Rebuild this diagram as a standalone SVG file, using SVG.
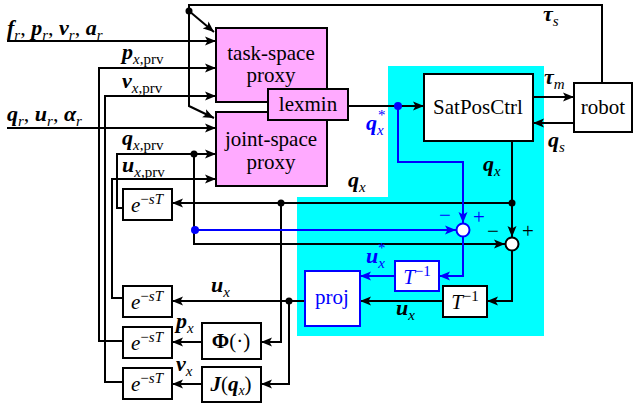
<svg xmlns="http://www.w3.org/2000/svg" width="636" height="412" viewBox="0 0 636 412">
<style>
.ln{fill:none;stroke:#000;stroke-width:2}
.bl{fill:none;stroke:#0000ff;stroke-width:2}
.box{fill:#fff;stroke:#000;stroke-width:2}
.pk{fill:#ffaaff;stroke:#000;stroke-width:2}
.bbox{fill:#fff;stroke:#0000ff;stroke-width:2}
.t{font-size:21px;fill:#000;text-anchor:middle}
.tb{fill:#0000ff}
.bi{font-weight:bold;font-style:italic;font-size:22px;fill:#000}
.sb{font-weight:normal;font-style:italic;font-size:15px}
.rm{font-weight:normal;font-style:normal;font-size:15px}
.n{font-weight:normal;font-style:normal}
.it{font-style:italic}
.sup{font-size:15px}
.sg{font-size:21px}
</style>
<defs>
<marker id="ab" markerWidth="12" markerHeight="10" refX="11" refY="5" orient="auto" markerUnits="userSpaceOnUse"><path d="M0,0.5 L11,5 L0,9.5 L2.5,5 z" fill="#000"/></marker>
<marker id="au" markerWidth="12" markerHeight="10" refX="11" refY="5" orient="auto" markerUnits="userSpaceOnUse"><path d="M0,0.5 L11,5 L0,9.5 L2.5,5 z" fill="#0000ff"/></marker>
</defs>
<rect width="636" height="412" fill="#fff"/>
<polygon points="388,66 544,66 544,336 297,336 297,197 388,197" fill="#00ffff"/>

<g id="connectors">
<path class="ln" d="M602,83 V5 H189 V106 L214,118" marker-end="url(#ab)"/>
<path class="ln" d="M189,11 L214,32" marker-end="url(#ab)"/>
<path class="ln" d="M7,41 H216" marker-end="url(#ab)"/>
<path class="ln" d="M123,341 H99 V68 H216" marker-end="url(#ab)"/>
<path class="ln" d="M123,382 H105 V96 H216" marker-end="url(#ab)"/>
<path class="ln" d="M7,128 H216" marker-end="url(#ab)"/>
<path class="ln" d="M123,208 H117 V154 H216" marker-end="url(#ab)"/>
<path class="ln" d="M123,298 H112 V179 H216" marker-end="url(#ab)"/>
<path class="ln" d="M194,154 V244 H505" marker-end="url(#ab)"/>
<path class="ln" d="M348,106 H424" marker-end="url(#ab)"/>
<path class="ln" d="M533,97 H574" marker-end="url(#ab)"/>
<path class="ln" d="M574,123 H533" marker-end="url(#ab)"/>
<path class="ln" d="M512,141 V237" marker-end="url(#ab)"/>
<path class="ln" d="M512,203 H172" marker-end="url(#ab)"/>
<path class="ln" d="M281,203 V342 H261" marker-end="url(#ab)"/>
<path class="ln" d="M512,251 V301 H487" marker-end="url(#ab)"/>
<path class="ln" d="M443,301 H360" marker-end="url(#ab)"/>
<path class="ln" d="M305,301 H172" marker-end="url(#ab)"/>
<path class="ln" d="M289,301 V384 H261" marker-end="url(#ab)"/>
<path class="ln" d="M202,342 H172" marker-end="url(#ab)"/>
<path class="ln" d="M202,384 H172" marker-end="url(#ab)"/>
<path class="bl" d="M398,106 V162 H463 V223" marker-end="url(#au)"/>
<path class="bl" d="M195,230 H456" marker-end="url(#au)"/>
<path class="bl" d="M463,237 V276 H439" marker-end="url(#au)"/>
<path class="bl" d="M395,276 H360" marker-end="url(#au)"/>
<circle cx="189" cy="11" r="3.5" fill="#000"/>
<circle cx="194" cy="154" r="3.5" fill="#000"/>
<circle cx="512" cy="203" r="3.5" fill="#000"/>
<circle cx="281" cy="203" r="3.5" fill="#000"/>
<circle cx="289" cy="301" r="3.5" fill="#000"/>
<circle cx="398" cy="106" r="4" fill="#0000ff"/>
<circle cx="195" cy="230" r="4" fill="#0000ff"/>
</g>

<g font-family="Liberation Serif, serif">
<g id="task-proxy"><rect class="pk" x="216" y="28" width="111" height="74"/><text class="t" x="271" y="60">task-space</text><text class="t" x="271" y="82">proxy</text></g>
<g id="joint-proxy"><rect class="pk" x="216" y="112" width="111" height="74"/><text class="t" x="271" y="146">joint-space</text><text class="t" x="271" y="169">proxy</text></g>
<g id="lexmin"><rect class="pk" x="268" y="89" width="80" height="31"/><text class="t" x="308" y="111">lexmin</text></g>
<g id="satposctrl"><rect class="box" x="424" y="74" width="109" height="67"/><text class="t" x="478" y="114">SatPosCtrl</text></g>
<g id="robot"><rect class="box" x="574" y="83" width="58" height="49"/><text class="t" x="603" y="114">robot</text></g>
<g id="sum-blue"><circle cx="463" cy="230" r="6.5" fill="#fff" stroke="#0000ff" stroke-width="2"/></g>
<g id="sum-black"><circle cx="512" cy="244" r="6.5" fill="#fff" stroke="#000" stroke-width="2"/></g>
<g id="tinv-blue"><rect class="bbox" x="395" y="261" width="44" height="30"/><text class="t tb" x="417" y="284"><tspan class="it">T</tspan><tspan class="sup" dy="-8">−1</tspan></text></g>
<g id="tinv-black"><rect class="box" x="443" y="286" width="44" height="31"/><text class="t" x="465" y="309"><tspan class="it">T</tspan><tspan class="sup" dy="-8">−1</tspan></text></g>
<g id="proj"><rect class="bbox" x="305" y="271" width="55" height="55"/><text class="t tb" x="332" y="304">proj</text></g>
<g id="delay-q"><rect class="box" x="123" y="189" width="49" height="31"/><text class="t" x="147" y="212"><tspan class="it">e</tspan><tspan class="sup" dy="-8">−<tspan class="it">sT</tspan></tspan></text></g>
<g id="delay-u"><rect class="box" x="123" y="286" width="49" height="31"/><text class="t" x="147" y="309"><tspan class="it">e</tspan><tspan class="sup" dy="-8">−<tspan class="it">sT</tspan></tspan></text></g>
<g id="delay-p"><rect class="box" x="123" y="327" width="49" height="31"/><text class="t" x="147" y="350"><tspan class="it">e</tspan><tspan class="sup" dy="-8">−<tspan class="it">sT</tspan></tspan></text></g>
<g id="delay-v"><rect class="box" x="123" y="368" width="49" height="31"/><text class="t" x="147" y="391"><tspan class="it">e</tspan><tspan class="sup" dy="-8">−<tspan class="it">sT</tspan></tspan></text></g>
<g id="phi"><rect class="box" x="202" y="323" width="59" height="36"/><text class="t" x="231" y="348"><tspan font-weight="bold">Φ</tspan>(·)</text></g>
<g id="jac"><rect class="box" x="202" y="367" width="59" height="35"/><text class="t" x="231" y="391"><tspan font-weight="bold" font-style="italic">J</tspan>(<tspan font-weight="bold" font-style="italic">q</tspan><tspan class="it" font-size="14" dy="4">x</tspan><tspan dy="-4">)</tspan></text></g>

<g id="labels">
<text class="bi" x="7" y="35">f<tspan class="sb" dy="5">r</tspan><tspan class="n" dy="-5">, </tspan>p<tspan class="sb" dy="5">r</tspan><tspan class="n" dy="-5">, </tspan>v<tspan class="sb" dy="5">r</tspan><tspan class="n" dy="-5">, </tspan>a<tspan class="sb" dy="5">r</tspan></text>
<text class="bi" x="7" y="121">q<tspan class="sb" dy="5">r</tspan><tspan class="n" dy="-5">, </tspan>u<tspan class="sb" dy="5">r</tspan><tspan class="n" dy="-5">, </tspan>α<tspan class="sb" dy="5">r</tspan></text>
<text class="bi" x="122" y="59">p<tspan class="sb" dy="5">x</tspan><tspan class="rm">,prv</tspan></text>
<text class="bi" x="122" y="88">v<tspan class="sb" dy="5">x</tspan><tspan class="rm">,prv</tspan></text>
<text class="bi" x="122" y="145">q<tspan class="sb" dy="5">x</tspan><tspan class="rm">,prv</tspan></text>
<text class="bi" x="122" y="172">u<tspan class="sb" dy="5">x</tspan><tspan class="rm">,prv</tspan></text>
<text class="bi" x="543" y="21">τ<tspan class="sb" dy="5">s</tspan></text>
<text class="bi" x="544" y="84">τ<tspan class="sb" dy="5">m</tspan></text>
<text class="bi" x="548" y="147">q<tspan class="sb" dy="5">s</tspan></text>
<text class="bi" x="348" y="187">q<tspan class="sb" dy="5">x</tspan></text>
<text class="bi" x="483" y="171">q<tspan class="sb" dy="5">x</tspan></text>
<text class="bi" x="211" y="292">u<tspan class="sb" dy="5">x</tspan></text>
<text class="bi" x="396" y="315">u<tspan class="sb" dy="5">x</tspan></text>
<text class="bi" x="176" y="328">p<tspan class="sb" dy="5">x</tspan></text>
<text class="bi" x="176" y="371">v<tspan class="sb" dy="5">x</tspan></text>
<text class="bi" x="366" y="130" style="fill:#0000ff">q<tspan class="sb" dy="5">x</tspan><tspan class="n" font-size="15" x="378" dy="-15">*</tspan></text>
<text class="bi" x="366" y="263" style="fill:#0000ff">u<tspan class="sb" dy="5">x</tspan><tspan class="n" font-size="15" x="378" dy="-15">*</tspan></text>
<text class="sg" x="439" y="222" fill="#0000ff">−</text>
<text class="sg" x="473" y="224" fill="#0000ff">+</text>
<text class="sg" x="487" y="238" fill="#000">−</text>
<text class="sg" x="522" y="238" fill="#000">+</text>
</g>
</g>
</svg>
